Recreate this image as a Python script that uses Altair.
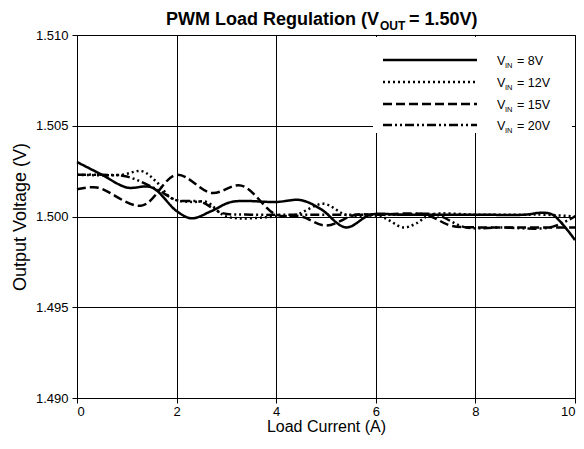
import altair as alt
import pandas as pd

# ---------------- data ----------------
series = ["VIN = 8V", "VIN = 12V", "VIN = 15V", "VIN = 20V"]
vin_labels = ["= 8V", "= 12V", "= 15V", "= 20V"]

x8 = [0.0, 0.5, 1.0, 1.5, 2.0, 2.3, 2.7, 3.1, 4.0, 4.5, 4.9, 5.4, 5.9, 6.5, 8.0, 9.0, 9.3, 9.55, 10.0]
y8 = [1.5030, 1.5023, 1.5016, 1.5016, 1.5003, 1.4999, 1.5003, 1.5008, 1.5008, 1.5009, 1.5004, 1.4994, 1.5001, 1.5001, 1.5001, 1.5001, 1.5002, 1.5001, 1.4987]

x12 = [0.0, 0.9, 1.3, 1.6, 1.9, 2.3, 2.6, 3.0, 4.0, 4.4, 4.95, 5.4, 6.1, 6.55, 6.8, 7.1, 8.0, 9.0, 9.4, 10.0]
y12 = [1.5023, 1.5023, 1.5025, 1.5019, 1.5010, 1.5008, 1.5008, 1.5000, 1.5000, 1.5001, 1.5007, 1.5001, 1.5000, 1.4994, 1.4996, 1.5001, 1.5001, 1.5001, 1.5001, 1.5000]

x15 = [0.0, 0.4, 1.3, 2.0, 2.7, 3.3, 4.0, 4.5, 5.0, 5.6, 6.0, 7.0, 7.5, 8.0, 9.0, 10.0]
y15 = [1.5015, 1.5016, 1.5006, 1.5023, 1.5013, 1.5017, 1.5001, 1.5000, 1.4995, 1.5001, 1.5001, 1.5001, 1.4995, 1.4994, 1.4994, 1.4994]

x20 = [0.0, 0.5, 1.0, 1.6, 2.0, 2.5, 2.9, 3.5, 4.5, 5.5, 6.5, 7.2, 7.8, 8.5, 9.5, 10.0]
y20 = [1.5023, 1.5023, 1.5022, 1.5015, 1.5009, 1.5008, 1.5002, 1.5001, 1.5001, 1.5001, 1.5001, 1.5001, 1.4994, 1.4994, 1.4994, 1.5000]

x_ticks = [0, 2, 4, 6, 8, 10]
y_ticks = [1.490, 1.495, 1.500, 1.505, 1.510]

rows = []
for name, xs, ys in zip(series, [x8, x12, x15, x20], [y8, y12, y15, y20]):
    for a, b in zip(xs, ys):
        rows.append({"series": name, "current": a, "voltage": b})
df = pd.DataFrame(rows)

# ---------------- styling ----------------
FONT = "Liberation Sans"
W, H = 498, 363
dashes = [[1, 0], [2, 3], [9, 4], [9, 3, 2, 3, 2, 3]]
one = pd.DataFrame({"k": [0]})

lines = alt.Chart(df).mark_line(strokeWidth=2.5, interpolate="catmull-rom", color="black").encode(
    x=alt.X("current:Q",
            scale=alt.Scale(domain=[0, 10], nice=False),
            axis=alt.Axis(values=x_ticks, title="Load Current (A)", format="d")),
    y=alt.Y("voltage:Q",
            scale=alt.Scale(domain=[1.49, 1.51], nice=False, zero=False),
            axis=alt.Axis(values=y_ticks, format=".3f", title="Output Voltage (V)")),
    strokeDash=alt.StrokeDash("series:N", scale=alt.Scale(domain=series, range=dashes), legend=None),
    detail="series:N",
)

# legend box (white background hiding grid)
lg_box = alt.Chart(one).mark_rect(fill="white").encode(
    x=alt.value(296), x2=alt.value(495), y=alt.value(2), y2=alt.value(98)
)

layers = [lines, lg_box]
row_y = [25, 47, 69, 90]
for i in range(4):
    ly = row_y[i]
    layers.append(alt.Chart(one).mark_rule(strokeWidth=2.5, color="black", strokeDash=dashes[i]).encode(
        x=alt.value(306), x2=alt.value(400), y=alt.value(ly)))
    layers.append(alt.Chart(one).mark_text(align="left", baseline="alphabetic", fontSize=12.5, font=FONT).encode(
        x=alt.value(420), y=alt.value(ly + 5), text=alt.value("V")))
    layers.append(alt.Chart(one).mark_text(align="left", baseline="alphabetic", fontSize=7.5, font=FONT).encode(
        x=alt.value(428), y=alt.value(ly + 8), text=alt.value("IN")))
    layers.append(alt.Chart(one).mark_text(align="left", baseline="alphabetic", fontSize=12.5, font=FONT).encode(
        x=alt.value(440), y=alt.value(ly + 5), text=alt.value(vin_labels[i])))

# title with subscript
layers.append(alt.Chart(one).mark_text(align="right", baseline="alphabetic", fontSize=18, fontWeight="bold", font=FONT).encode(
    x=alt.value(302), y=alt.value(-10), text=alt.value("PWM Load Regulation (V")))
layers.append(alt.Chart(one).mark_text(align="left", baseline="alphabetic", fontSize=12, fontWeight="bold", font=FONT).encode(
    x=alt.value(303), y=alt.value(-5), text=alt.value("OUT")))
layers.append(alt.Chart(one).mark_text(align="left", baseline="alphabetic", fontSize=18, fontWeight="bold", font=FONT).encode(
    x=alt.value(332), y=alt.value(-10), text=alt.value("= 1.50V)")))

chart = alt.layer(*layers).properties(
    width=W, height=H,
    autosize=alt.AutoSizeParams(type="none"),
    padding={"left": 69, "top": 27, "right": 1, "bottom": 43},
).configure_view(
    stroke="black", strokeWidth=1
).configure_axis(
    grid=True, gridColor="black", gridWidth=1, gridOpacity=1,
    domainColor="black", tickColor="black", tickSize=5,
    labelFont=FONT, labelFontSize=13, labelColor="black",
    titleFont=FONT, titleFontWeight="normal", titleColor="black",
).configure_axisY(
    titleFontSize=18, labelPadding=4, titlePadding=6
).configure_axisX(
    titleFontSize=16, labelPadding=2, titlePadding=0
)

chart.save("out.html", embed_options={"renderer": "svg", "actions": False})
